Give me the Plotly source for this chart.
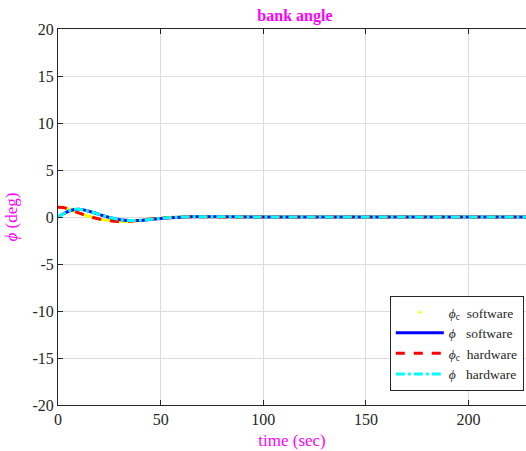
import plotly.graph_objects as go

t = [0, 2.5, 5, 7.5, 10, 12.5, 15, 20, 25, 30, 35, 40, 45, 50, 55, 60, 65, 70, 80, 100, 150, 200, 230]

phic_sw = [1.0, 1.0, 0.85, 0.65, 0.45, 0.25, 0.08, -0.2, -0.38, -0.47, -0.46, -0.36, -0.23, -0.12, -0.05, 0.0, 0.02, 0.02, 0.01, 0.0, 0.0, 0.0, 0.0]
phi_sw = [0.0, 0.35, 0.6, 0.78, 0.82, 0.76, 0.62, 0.28, -0.05, -0.28, -0.38, -0.36, -0.26, -0.15, -0.07, -0.02, 0.02, 0.03, 0.02, 0.0, 0.0, 0.0, 0.0]
phic_hw = [1.05, 1.02, 0.85, 0.64, 0.44, 0.24, 0.07, -0.21, -0.39, -0.47, -0.45, -0.35, -0.22, -0.11, -0.04, 0.0, 0.02, 0.02, 0.01, 0.0, 0.0, 0.0, 0.0]
phi_hw = [0.0, 0.36, 0.62, 0.8, 0.83, 0.77, 0.63, 0.29, -0.04, -0.27, -0.37, -0.35, -0.25, -0.14, -0.06, -0.01, 0.02, 0.03, 0.02, 0.0, 0.0, 0.0, 0.0]

x_ticks = [0, 50, 100, 150, 200]
x_labels = ["0", "50", "100", "150", "200"]
y_ticks = [-20, -15, -10, -5, 0, 5, 10, 15, 20]
y_labels = ["-20", "-15", "-10", "-5", "0", "5", "10", "15", "20"]

FONT = "Liberation Serif, Times New Roman, serif"
MAG = "#ff00ff"
AX = "#262626"

fig = go.Figure()
fig.add_trace(go.Scatter(x=t, y=phic_sw, mode="lines", line=dict(color="yellow", width=3, shape="spline"),
                         showlegend=False, legendgroup="a"))
fig.add_trace(go.Scatter(x=t, y=phic_sw, mode="markers", marker=dict(color="yellow", size=3),
                         name="<i>ϕ</i><sub>c</sub>  software", legendgroup="a"))
fig.add_trace(go.Scatter(x=t, y=phi_sw, mode="lines", line=dict(color="blue", width=3, shape="spline"),
                         name="<i>ϕ</i>   software"))
fig.add_trace(go.Scatter(x=t, y=phic_hw, mode="lines", line=dict(color="red", width=3, dash="dash", shape="spline"),
                         name="<i>ϕ</i><sub>c</sub>  hardware"))
fig.add_trace(go.Scatter(x=t, y=phi_hw, mode="lines", line=dict(color="cyan", width=3, dash="dashdot", shape="spline"),
                         name="<i>ϕ</i>   hardware"))

fig.update_layout(
    width=526, height=451,
    margin=dict(l=58, r=0, t=29, b=46),
    paper_bgcolor="white", plot_bgcolor="white",
    font=dict(family=FONT, size=16, color=AX),
    title=dict(text="<b>bank angle</b>", x=0.5607, xanchor="center", y=0.965, yanchor="middle",
               font=dict(family=FONT, size=16, color=MAG)),
    xaxis=dict(range=[0, 228], tickvals=x_ticks, ticktext=x_labels, showgrid=True, gridcolor="#dcdcdc", gridwidth=1,
               showline=True, linecolor=AX, linewidth=1, mirror="ticks", ticks="inside", ticklen=5,
               tickcolor=AX, zeroline=False,
               title=dict(text="time (sec)", font=dict(family=FONT, size=17, color=MAG), standoff=6)),
    yaxis=dict(range=[-20, 20], tickvals=y_ticks, ticktext=y_labels, showgrid=True, gridcolor="#dcdcdc", gridwidth=1,
               showline=True, linecolor=AX, linewidth=1, ticks="inside", ticklen=5, tickcolor=AX,
               zeroline=False,
               title=dict(text="<i>ϕ</i> (deg)", font=dict(family=FONT, size=17, color=MAG), standoff=10)),
    legend=dict(x=0.709, y=0.29, xanchor="left", yanchor="top", bgcolor="white", bordercolor=AX,
                borderwidth=1, font=dict(family=FONT, size=13.5, color=AX), tracegroupgap=0,
                itemwidth=48),
)

fig.write_html("out.html", config={"displayModeBar": False},
               post_script="document.body.style.margin='0px';document.body.style.padding='0px';")
